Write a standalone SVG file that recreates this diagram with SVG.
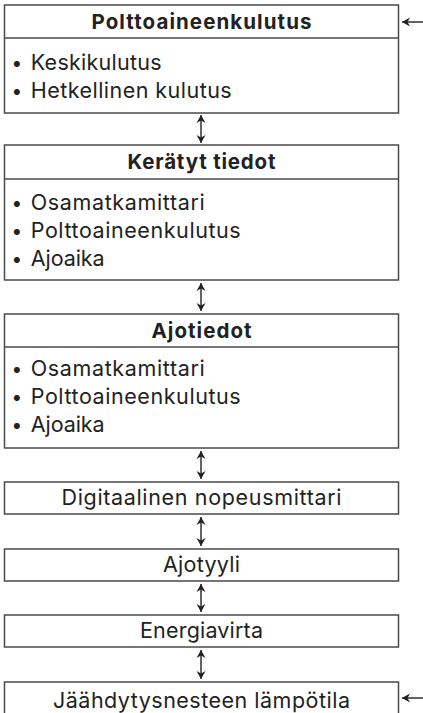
<svg xmlns="http://www.w3.org/2000/svg" width="423" height="713" viewBox="0 0 423 713">
<style>
.box{fill:#fff;stroke:#4a4a4a;stroke-width:1.5}
.sep{stroke:#4a4a4a;stroke-width:1.5}
.h{font-family:Inter,"Noto Sans",sans-serif;font-weight:bold;font-size:20.5px;fill:#222;text-anchor:middle}
.t{font-family:Inter,"Noto Sans",sans-serif;font-size:21.5px;fill:#222}
.c{font-family:Inter,"Noto Sans",sans-serif;font-size:21.5px;fill:#222;text-anchor:middle}
.b{font-family:Inter,"Noto Sans",sans-serif;font-size:19px;fill:#222}
.con{stroke:#222;stroke-width:1.4;fill:none}
</style>
<defs>
<marker id="ah" markerUnits="userSpaceOnUse" markerWidth="12" markerHeight="12" viewBox="-9 -6 12 12" refX="0" refY="0" orient="auto-start-reverse">
<path d="M0,0 L-8,-4.5 L-5.5,0 L-8,4.5 Z" fill="#222"/>
</marker>
</defs>
<g id="connectors">
<line class="con" x1="201" y1="115" x2="201" y2="143" marker-start="url(#ah)" marker-end="url(#ah)"/>
<line class="con" x1="201" y1="283" x2="201" y2="311" marker-start="url(#ah)" marker-end="url(#ah)"/>
<line class="con" x1="201" y1="451" x2="201" y2="479" marker-start="url(#ah)" marker-end="url(#ah)"/>
<line class="con" x1="201" y1="517" x2="201" y2="546" marker-start="url(#ah)" marker-end="url(#ah)"/>
<line class="con" x1="201" y1="584" x2="201" y2="612" marker-start="url(#ah)" marker-end="url(#ah)"/>
<line class="con" x1="201" y1="650" x2="201" y2="679" marker-start="url(#ah)" marker-end="url(#ah)"/>
<line class="con" x1="423" y1="22" x2="402" y2="22" marker-end="url(#ah)"/>
<line class="con" x1="423" y1="698" x2="402" y2="698" marker-end="url(#ah)"/>
</g>
<g id="n1">
<rect class="box" x="4.5" y="5" width="394" height="108"/>
<line class="sep" x1="4.5" y1="38" x2="398.5" y2="38"/>
<text class="h" x="201.5" y="28.5" textLength="220" lengthAdjust="spacing">Polttoaineenkulutus</text>
<text class="b" x="11.5" y="70">•</text>
<text class="t" x="30.7" y="70" textLength="131" lengthAdjust="spacing">Keskikulutus</text>
<text class="b" x="11.5" y="98">•</text>
<text class="t" x="30.7" y="98" textLength="201" lengthAdjust="spacing">Hetkellinen kulutus</text>
</g>
<g id="n2">
<rect class="box" x="4.5" y="145" width="394" height="135"/>
<line class="sep" x1="4.5" y1="179" x2="398.5" y2="179"/>
<text class="h" x="201.5" y="169" textLength="148" lengthAdjust="spacing">Kerätyt tiedot</text>
<text class="b" x="11.5" y="210">•</text>
<text class="t" x="30.7" y="210" textLength="174" lengthAdjust="spacing">Osamatkamittari</text>
<text class="b" x="11.5" y="238">•</text>
<text class="t" x="30.7" y="238" textLength="210" lengthAdjust="spacing">Polttoaineenkulutus</text>
<text class="b" x="11.5" y="266">•</text>
<text class="t" x="30.7" y="266" textLength="74" lengthAdjust="spacing">Ajoaika</text>
</g>
<g id="n3">
<rect class="box" x="4.5" y="314" width="394" height="134"/>
<line class="sep" x1="4.5" y1="347" x2="398.5" y2="347"/>
<text class="h" x="201.5" y="337.5" textLength="100" lengthAdjust="spacing">Ajotiedot</text>
<text class="b" x="11.5" y="376">•</text>
<text class="t" x="30.7" y="376" textLength="174" lengthAdjust="spacing">Osamatkamittari</text>
<text class="b" x="11.5" y="404">•</text>
<text class="t" x="30.7" y="404" textLength="210" lengthAdjust="spacing">Polttoaineenkulutus</text>
<text class="b" x="11.5" y="432">•</text>
<text class="t" x="30.7" y="432" textLength="74" lengthAdjust="spacing">Ajoaika</text>
</g>
<g id="n4">
<rect class="box" x="4.5" y="482" width="394" height="32"/>
<text class="c" x="201.5" y="505" textLength="280" lengthAdjust="spacing">Digitaalinen nopeusmittari</text>
</g>
<g id="n5">
<rect class="box" x="4.5" y="549" width="394" height="32"/>
<text class="c" x="201.5" y="572" textLength="77" lengthAdjust="spacing">Ajotyyli</text>
</g>
<g id="n6">
<rect class="box" x="4.5" y="615" width="394" height="32"/>
<text class="c" x="201.5" y="638" textLength="123" lengthAdjust="spacing">Energiavirta</text>
</g>
<g id="n7">
<rect class="box" x="4.5" y="682" width="394" height="40"/>
<text class="c" x="201.5" y="708" textLength="297" lengthAdjust="spacing">Jäähdytysnesteen lämpötila</text>
</g>
</svg>
